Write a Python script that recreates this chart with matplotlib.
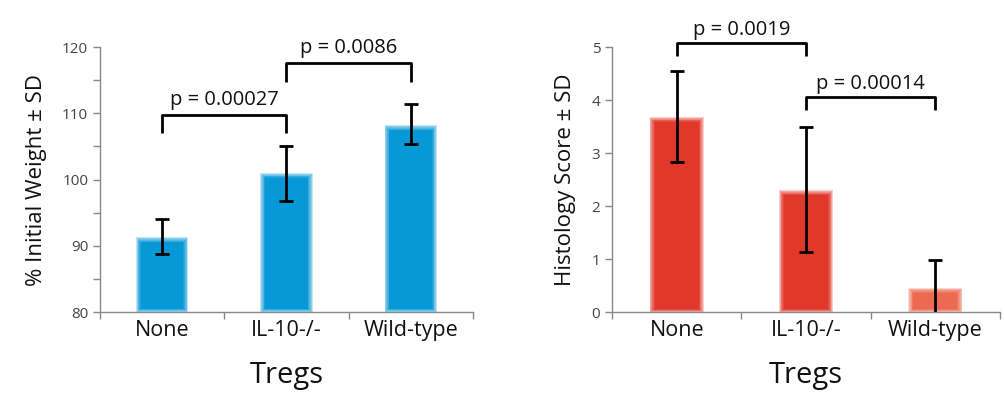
import numpy as np
import matplotlib
matplotlib.use('Agg')
import matplotlib.pyplot as plt
from matplotlib.colors import to_rgb

plt.rcParams['font.family'] = ['Open Sans', 'DejaVu Sans']

groups = ['None', 'IL-10-/-', 'Wild-type']

# left panel: weight
weight = [91.3, 101.0, 108.2]
weight_hi = [94.1, 105.1, 111.4]
weight_lo = [88.8, 96.8, 105.4]
weight_p = [(0, 1, 109.8, 'p = 0.00027'), (1, 2, 117.6, 'p = 0.0086')]

# right panel: histology
histo = [3.68, 2.30, 0.46]
histo_hi = [4.55, 3.50, 0.99]
histo_lo = [2.84, 1.13, -0.07]
histo_p = [(0, 1, 5.08, 'p = 0.0019'), (1, 2, 4.06, 'p = 0.00014')]

blue_core = ['#0798d7', '#0798d7', '#0798d7']
red_core = ['#e2382b', '#e2382b', '#ec6a52']


def mix(c1, c2, t):
  a = np.array(to_rgb(c1))
  b = np.array(to_rgb(c2))
  return tuple(a + (b - a) * t)


def glow_bars(ax, vals, base, cores, width, dh):
  # soft edged bars: stack of insets going from pale to full colour
  x = np.arange(len(vals))
  n = 7
  for k in range(n):
    t = k / (n - 1)
    w = width - k * 0.013
    for i, v in enumerate(vals):
      col = mix('#ffffff', cores[i], 0.25 + 0.75 * t ** 0.7)
      lo = base + k * dh * 0.6
      hi = v - k * dh
      ax.bar(x[i], hi - lo, width=w, bottom=lo, color=col, linewidth=0, zorder=2)


def panel(ax, vals, hi, lo, base, top, step, minor, cores, dh, pvals, drop, ylabel):
  x = np.arange(len(vals))
  glow_bars(ax, vals, base, cores, 0.42, dh)
  vals = np.array(vals)
  err = [vals - np.array(lo), np.array(hi) - vals]
  ax.errorbar(x, vals, yerr=err, fmt='none', ecolor='black', elinewidth=2,
              capsize=5, capthick=2, zorder=4)
  for a, b, y, txt in pvals:
    ax.plot([a, a, b, b], [y - drop, y, y, y - drop], color='black', lw=2,
            clip_on=False, zorder=5, solid_capstyle='butt')
    ax.text((a + b) / 2, y + drop * 0.25, txt, ha='center', va='bottom',
            fontsize=14.5, color='#111111', clip_on=False)
  ax.set_xlim(-0.5, len(vals) - 0.5)
  ax.set_ylim(base, top)
  ax.set_yticks(np.arange(base, top + 0.001, step))
  ax.set_yticks(np.arange(base, top + 0.001, minor), minor=True)
  ax.set_xticks(x)
  ax.set_xticklabels(groups, fontsize=15.5, color='#111111')
  ax.set_xticks(np.arange(-0.5, len(vals), 1.0), minor=True)
  ax.tick_params(axis='x', which='major', length=0, pad=6)
  ax.tick_params(axis='x', which='minor', length=5, color='#888888', width=1)
  ax.tick_params(axis='y', which='both', length=5, color='#888888', width=1,
                 labelsize=11, labelcolor='#444444')
  for s in ['top', 'right']:
    ax.spines[s].set_visible(False)
  for s in ['left', 'bottom']:
    ax.spines[s].set_color('#888888')
    ax.spines[s].set_linewidth(1)
  ax.set_ylabel(ylabel, fontsize=16, color='#111111', labelpad=11)
  ax.set_xlabel('Tregs', fontsize=21, color='#111111', labelpad=14)


fig = plt.figure(figsize=(10.05, 3.96), dpi=100)
ax1 = fig.add_axes([0.0995, 0.212, 0.371, 0.669])
ax2 = fig.add_axes([0.609, 0.212, 0.386, 0.669])

panel(ax1, weight, weight_hi, weight_lo, 80, 120, 10, 5, blue_core, 0.13,
      weight_p, 2.8, '% Initial Weight \u00b1 SD')
panel(ax2, histo, histo_hi, histo_lo, 0, 5, 1, 1, red_core, 0.016,
      histo_p, 0.25, 'Histology Score \u00b1 SD')

fig.savefig('out.png', dpi=100)
